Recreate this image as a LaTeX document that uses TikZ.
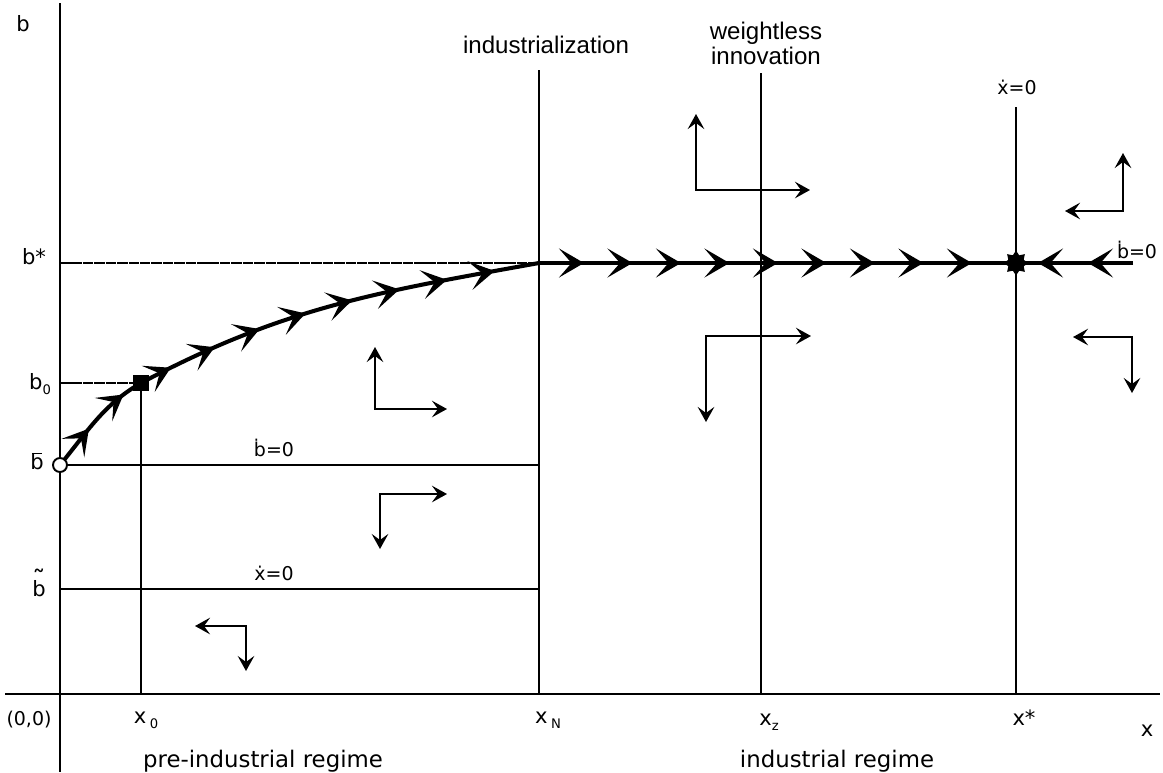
\documentclass[tikz,border=0pt]{standalone}
\usepackage{fontspec}
\setmainfont{DejaVu Sans}
\newfontfamily\helv{Liberation Sans}
\usetikzlibrary{arrows.meta,decorations.markings,shapes.geometric}

\newcommand\lowsub[1]{\raisebox{-0.45ex}{\fontsize{7.5}{8}\selectfont #1}}
\newcommand\barb{\rlap{\hspace{0.09em}\rule[0.69em]{0.48em}{0.085em}}b}
\newcommand\tildeb{\rlap{\raisebox{0.3em}{\makebox[0.635em]{\fontsize{15}{15}\selectfont\char"02DC}}}b}

\tikzset{
	>={Stealth[length=5mm,width=5.8mm,inset=2.5mm]},
	axis/.style={line width=0.9pt},
	guide/.style={line width=0.8pt, dash pattern=on 6pt off 0.5pt},
	level/.style={line width=1.1pt},
	flow/.style={line width=2.3pt, postaction=decorate},
	phase/.style={line width=1.5pt, {Stealth[length=3mm,width=3.3mm,inset=1.2mm]}-{Stealth[length=3mm,width=3.3mm,inset=1.2mm]}},
	axlab/.style={inner sep=0pt, font=\fontsize{12}{14}\selectfont},
	eqlab/.style={inner sep=0pt, font=\fontsize{10.8}{12}\selectfont},
	regime/.style={inner sep=0pt, font=\fontsize{13}{15}\selectfont},
	event/.style={inner sep=0pt, align=center, font=\helv\fontsize{13.7}{14.2}\selectfont}
}

\begin{document}
\begin{tikzpicture}[x=0.02cm, y=-0.02cm]
	\useasboundingbox (0,0) rectangle (1163,772);

	\coordinate (ytop) at (60,3);
	\coordinate (ybot) at (60,772);
	\coordinate (xleft) at (5,694);
	\coordinate (xright) at (1160,694);
	\coordinate (bbar) at (60,465);
	\coordinate (start) at (141,383);
	\coordinate (join) at (539,263);
	\coordinate (eq) at (1016,263);
	\coordinate (bsend) at (1133,263);

	\draw[axis] (ytop) -- (ybot);
	\draw[axis] (xleft) -- (xright);

	\draw[guide] (60,263) -- (join);
	\draw[guide] (60,383) -- (start);
	\draw[level] (start) -- (141,694);
	\draw[level] (bbar) -- (539,465);
	\draw[level] (60,589) -- (539,589);
	\draw[level] (539,70) -- (539,694);
	\draw[level] (761,73) -- (761,694);
	\draw[line width=1.6pt] (1016,107) -- (1016,694);

	\draw[flow, decoration={markings, mark=at position 0.4 with {\arrow{>}}, mark=at position 0.82 with {\arrow{>}}}]
		(bbar) .. controls (88,431) and (103,405) .. (start);
	\draw[flow, decoration={markings, mark=between positions 0.08 and 0.92 step 0.116 with {\arrow{>}}}]
		(start) .. controls (284,307) and (378,292) .. (join);
	\draw[flow, decoration={markings, mark=between positions 0.9cm and 8.8cm step 0.97cm with {\arrow{>}}}]
		(join) -- (eq);
	\draw[flow, decoration={markings, mark=at position 0.9cm with {\arrow{>}}, mark=at position 1.9cm with {\arrow{>}}}]
		(bsend) -- (eq);

	\draw[phase] (375,347) |- (447,409);
	\draw[phase] (380,549) |- (447,494);
	\draw[phase] (246,671) |- (195,626);
	\draw[phase] (696,114) |- (810,190);
	\draw[phase] (706,422) |- (811,336);
	\draw[phase] (1123,153) |- (1065,211);
	\draw[phase] (1132,393) |- (1073,337);

	\node[circle, draw, fill=white, line width=1.1pt, inner sep=0pt, minimum size=0.28cm] (bbardot) at (bbar) {};
	\node[rectangle, fill, inner sep=0pt, minimum size=0.32cm] (startdot) at (start) {};
	\node[star, star points=8, star point ratio=1.5, fill, inner sep=0pt, minimum size=0.5cm] (eqdot) at (eq) {};

	\node[axlab] (blab) at (23,24) {b};
	\node[axlab] (bstarlab) at (34,257) {b*};
	\node[axlab] (bzerolab) at (40,384) {b\lowsub{0}};
	\node[axlab] (bbarlab) at (37,461) {\barb};
	\node[axlab] (btildelab) at (39,583) {\tildeb};
	\node[eqlab] (originlab) at (29,720) {(0,0)};
	\node[axlab] (xzerolab) at (146,720) {x\,\lowsub{0}};
	\node[axlab] (xNlab) at (548,720) {x\,\lowsub{N}};
	\node[axlab] (xzlab) at (769,722) {x\lowsub{z}};
	\node[axlab] (xstarlab) at (1024,718) {x*};
	\node[axlab] (xlab) at (1147,731) {x};

	\node[regime] (prelab) at (263,761) {pre-industrial regime};
	\node[regime] (indlab) at (837,761) {industrial regime};

	\node[eqlab] (bdotlow) at (274,448) {ḃ=0};
	\node[eqlab] (xdotlow) at (274,573) {ẋ=0};
	\node[eqlab] (xdottop) at (1017,87) {ẋ=0};
	\node[eqlab] (bdotright) at (1137,250) {ḃ=0};

	\node[event] (industry) at (546,45) {industrialization};
	\node[event] (weightless) at (766,43) {weightless\\innovation};
\end{tikzpicture}
\end{document}
